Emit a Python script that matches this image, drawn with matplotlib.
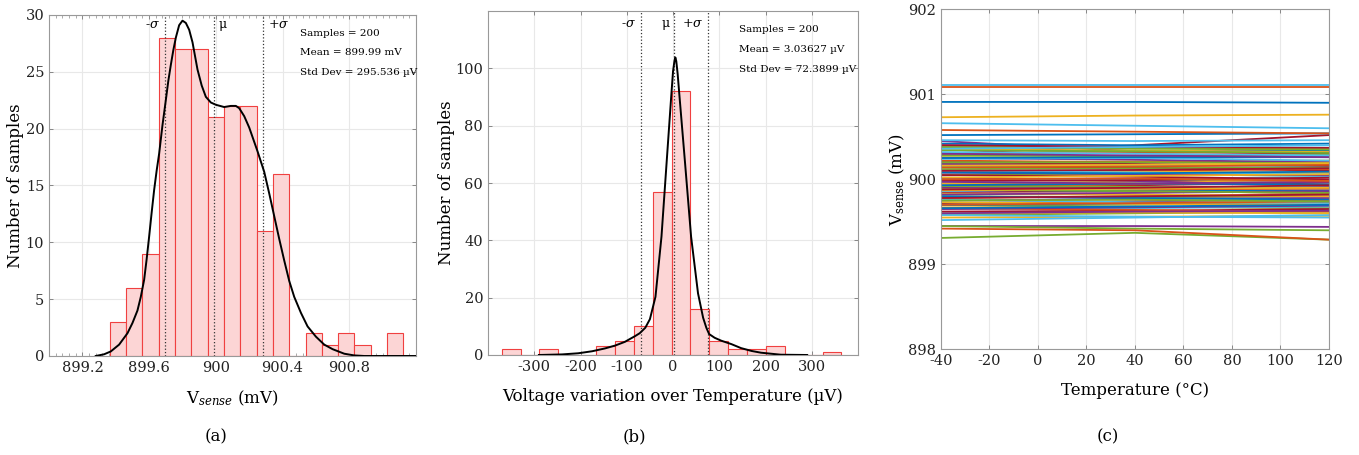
import numpy as np
import matplotlib.pyplot as plt
from matplotlib.ticker import MultipleLocator

plt.rcParams['font.family'] = 'DejaVu Serif'
plt.rcParams['mathtext.fontset'] = 'dejavuserif'
plt.rcParams['axes.unicode_minus'] = False

# (a) histogram of Vsense (mV)
a_edge0 = 899.364
a_width = 0.0978
a_counts = [3, 6, 9, 28, 27, 27, 21, 22, 22, 11, 16, 0, 2, 1, 2, 1, 0, 2]
a_mean = 899.99
a_std = 0.295536
# fitted density curve
a_curve_x = [899.28, 899.33, 899.37, 899.42, 899.47, 899.50, 899.53, 899.55, 899.57, 899.585,
             899.60, 899.615, 899.63, 899.645, 899.66, 899.68, 899.70, 899.715, 899.73, 899.745,
             899.76, 899.78, 899.80, 899.82, 899.84, 899.86, 899.89, 899.915, 899.94, 899.97,
             900.00, 900.05, 900.09, 900.12, 900.14, 900.17, 900.20, 900.25, 900.29, 900.32,
             900.35, 900.38, 900.41, 900.44, 900.47, 900.51, 900.55, 900.60, 900.65, 900.70,
             900.77, 900.83, 900.89, 901.20]
a_curve_y = [0, 0.15, 0.4, 1.0, 2.0, 2.9, 4.0, 5.2, 6.7, 8.5,
             10.5, 12.6, 14.6, 16.3, 17.8, 20.3, 22.5, 24.2, 25.6, 26.9,
             28.0, 29.1, 29.5, 29.3, 28.7, 27.6, 25.2, 23.8, 22.8, 22.3,
             22.1, 21.9, 22.0, 22.0, 21.8, 21.1, 20.1, 18.0, 16.2, 14.3,
             12.3, 10.3, 8.4, 6.6, 5.2, 3.8, 2.6, 1.7, 1.0, 0.6,
             0.2, 0.05, 0.0, 0.0]

# (b) histogram of variation over temperature (uV)
b_edge0 = -370.5
b_width = 40.8
b_counts = [2, 0, 2, 0, 0, 3, 5, 10, 57, 92, 16, 5, 2, 2, 3, 0, 0, 1]
b_mean = 3.03627
b_std = 72.3899
b_curve_x = [-290, -240, -205, -175, -147, -125, -104, -82, -72, -60, -50, -38, -25,
             -14, -4, 0, 3, 5, 7, 10, 14, 26, 39, 54, 65, 72, 78, 90, 104, 126,
             147, 170, 190, 233, 290]
b_curve_y = [0, 0.2, 0.6, 1.3, 2.3, 3.3, 4.6, 6.6, 7.6, 9.5, 12.5, 20.3, 41.3,
             66.9, 90.1, 99.0, 102.5, 103.8, 102.5, 98.0, 90.1, 66.9, 41.3, 21.5, 13.0,
             9.5, 7.3, 6.0, 5.0, 3.8, 2.4, 1.4, 0.8, 0.1, 0]

# (c) Vsense vs temperature, one line per sample (values at -40, 40, 120 degC)
temps = [-40, 40, 120]
vsense_lines = [
    (900.91, 900.91, 900.90), (901.09, 901.09, 901.09), (900.73, 900.75, 900.76), (900.45, 900.33, 900.30),
    (899.31, 899.37, 899.29), (901.11, 901.11, 901.11), (900.30, 900.40, 900.52),
    (900.52, 900.53, 900.54), (900.58, 900.56, 900.54), (900.20, 900.21, 900.22), (899.45, 899.45, 899.44),
    (899.45, 899.42, 899.40), (900.66, 900.63, 900.60), (899.95, 899.93, 899.96),
    (900.42, 900.40, 900.42), (899.42, 899.40, 899.29), (899.55, 899.56, 899.57), (900.40, 900.38, 900.36),
    (899.80, 899.79, 899.80), (900.46, 900.45, 900.46), (900.35, 900.33, 900.30),
    (899.60, 899.62, 899.63), (900.30, 900.31, 900.32), (899.67, 899.68, 899.66), (899.90, 899.90, 899.91),
    (900.05, 900.06, 900.04), (899.52, 899.55, 899.58), (900.15, 900.14, 900.10),
    (900.00, 899.98, 899.99), (900.22, 900.20, 900.21), (900.26, 900.25, 900.27), (899.75, 899.77, 899.78),
    (899.70, 899.68, 899.66), (900.18, 900.17, 900.15), (899.85, 899.86, 899.84),
    (899.88, 899.86, 899.87), (900.08, 900.10, 900.12), (899.95, 899.97, 899.99), (900.02, 899.98, 899.92),
    (900.12, 900.13, 900.14), (899.65, 899.66, 899.68), (899.72, 899.74, 899.76),
    (900.35, 900.33, 900.34), (899.78, 899.80, 899.83), (900.10, 900.09, 900.08), (900.25, 900.23, 900.20),
    (899.58, 899.60, 899.62), (899.98, 900.00, 900.03), (900.05, 900.03, 900.00),
    (899.70, 899.71, 899.73), (899.92, 899.94, 899.97), (899.83, 899.82, 899.80), (900.18, 900.16, 900.17),
    (900.28, 900.27, 900.29), (900.24, 900.25, 900.22), (899.62, 899.63, 899.65),
    (900.15, 900.16, 900.18), (899.66, 899.64, 899.62), (900.35, 900.34, 900.32), (899.82, 899.84, 899.86),
    (899.92, 899.91, 899.90), (899.76, 899.73, 899.72), (900.20, 900.18, 900.16),
    (899.80, 899.78, 899.76), (900.38, 900.37, 900.36), (899.73, 899.71, 899.70), (900.08, 900.06, 900.05),
    (900.20, 900.20, 900.19), (900.10, 900.08, 900.06), (899.98, 899.99, 900.02),
    (900.25, 900.26, 900.26), (899.88, 899.88, 899.89), (900.02, 900.04, 900.06), (899.65, 899.67, 899.69),
    (900.34, 900.33, 900.31), (899.86, 899.89, 899.93), (900.40, 900.38, 900.37),
    (899.93, 899.95, 899.94), (900.14, 900.15, 900.17), (899.60, 899.61, 899.60), (899.97, 899.95, 899.97),
    (899.88, 899.86, 899.84), (900.32, 900.30, 900.28), (899.78, 899.80, 899.82),
    (900.08, 900.07, 900.09), (899.70, 899.72, 899.74), (900.16, 900.17, 900.19), (900.30, 900.28, 900.26),
    (899.75, 899.76, 899.74), (899.58, 899.56, 899.55), (900.10, 900.11, 900.13),
    (899.66, 899.68, 899.70), (900.00, 900.01, 899.98), (899.87, 899.89, 899.90), (899.60, 899.62, 899.63),
    (900.38, 900.36, 900.35), (900.36, 900.38, 900.40), (899.88, 899.90, 899.93),
]
matlab_colors = ['#0072bd', '#d95319', '#edb120', '#7e2f8e', '#77ac30', '#4dbeee', '#a2142f']

fig = plt.figure(figsize=(13.59, 4.55), dpi=100)
ax_a = fig.add_axes([0.0361, 0.2176, 0.2700, 0.7495])
ax_b = fig.add_axes([0.3591, 0.2198, 0.2723, 0.7560])
ax_c = fig.add_axes([0.6924, 0.2323, 0.2855, 0.7473])

tick_fs = 10.5
label_fs = 12
note_fs = 7.5


def style(ax):
    for s in ax.spines.values():
        s.set_color('#999999')
        s.set_linewidth(0.8)
    ax.tick_params(direction='in', top=True, right=True, length=3, width=0.6,
                   color='#777777', labelsize=tick_fs, labelcolor='#222222')
    ax.tick_params(which='minor', direction='in', top=True, length=2, width=0.5, color='#888888')
    ax.grid(True, color='#e8e8e8', lw=0.8)
    ax.set_axisbelow(True)


def hist_panel(ax, edge0, width, counts, cx, cy, mean, std, lbl_side, lbl_y,
               notes, note_x, note_y0, note_dy):
    edges = edge0 + width * np.arange(len(counts))
    ax.bar(edges, counts, width=width, align='edge', color='#fcd5d5',
           edgecolor='#f04040', linewidth=0.8, zorder=2)
    ax.plot(cx, cy, color='black', lw=1.4, zorder=4)
    for x in (mean - std, mean, mean + std):
        ax.axvline(x, color='#333333', ls=':', lw=0.9, zorder=3)
    labels = ['-$\\sigma$', '\u03bc', '+$\\sigma$']
    off = 0.012 * (ax.get_xlim()[1] - ax.get_xlim()[0])
    for x, t, side in zip((mean - std, mean, mean + std), labels, lbl_side):
        if side == 'r':
            ax.text(x + off, lbl_y, t, transform=ax.get_xaxis_transform(),
                    ha='left', va='center', fontsize=9)
        else:
            ax.text(x - off, lbl_y, t, transform=ax.get_xaxis_transform(),
                    ha='right', va='center', fontsize=9)
    for i, n in enumerate(notes):
        ax.text(note_x, note_y0 - i * note_dy, n, transform=ax.transAxes,
                ha='left', va='center', fontsize=note_fs)


# panel (a)
ax_a.set_xlim(899.0, 901.2)
ax_a.set_ylim(0, 30)
style(ax_a)
hist_panel(ax_a, a_edge0, a_width, a_counts, a_curve_x, a_curve_y, a_mean, a_std,
           ['l', 'r', 'r'], 0.972,
           ['Samples = 200', 'Mean = 899.99 mV', 'Std Dev = 295.536 \u00b5V'],
           0.685, 0.947, 0.058)
ax_a.set_xticks([899.2, 899.6, 900.0, 900.4, 900.8])
ax_a.set_xticklabels(['899.2', '899.6', '900', '900.4', '900.8'])
ax_a.set_yticks(range(0, 31, 5))
ax_a.xaxis.set_minor_locator(MultipleLocator(0.04))
ax_a.set_xlabel('V$_{sense}$ (mV)', fontsize=label_fs, labelpad=10)
ax_a.set_ylabel('Number of samples', fontsize=label_fs, labelpad=1)

# panel (b)
ax_b.set_xlim(-400, 400)
ax_b.set_ylim(0, 120)
style(ax_b)
hist_panel(ax_b, b_edge0, b_width, b_counts, b_curve_x, b_curve_y, b_mean, b_std,
           ['l', 'l', 'l'], 0.965,
           ['Samples = 200', 'Mean = 3.03627 \u00b5V', 'Std Dev = 72.3899 \u00b5V'],
           0.677, 0.945, 0.058)
ax_b.set_xticks(range(-300, 301, 100))
ax_b.set_yticks(range(0, 101, 20))
ax_b.set_xlabel('Voltage variation over Temperature (\u00b5V)', fontsize=label_fs, labelpad=10)
ax_b.set_ylabel('Number of samples', fontsize=label_fs, labelpad=0)

# panel (c)
for i, v in enumerate(vsense_lines):
    ax_c.plot(temps, v, color=matlab_colors[i % 7], lw=1.3)
ax_c.set_xlim(-40, 120)
ax_c.set_ylim(898, 902)
style(ax_c)
ax_c.set_xticks(range(-40, 121, 20))
ax_c.set_yticks(range(898, 903))
ax_c.set_xlabel('Temperature (\u00b0C)', fontsize=label_fs, labelpad=10)
ax_c.set_ylabel('V$_{\\mathrm{sense}}$ (mV)', fontsize=label_fs, labelpad=1)

for x, t in zip([216 / 1359, 634 / 1359, 1108 / 1359], ['(a)', '(b)', '(c)']):
    fig.text(x, 0.04, t, ha='center', va='center', fontsize=12)

fig.savefig('out.png', dpi=100)
